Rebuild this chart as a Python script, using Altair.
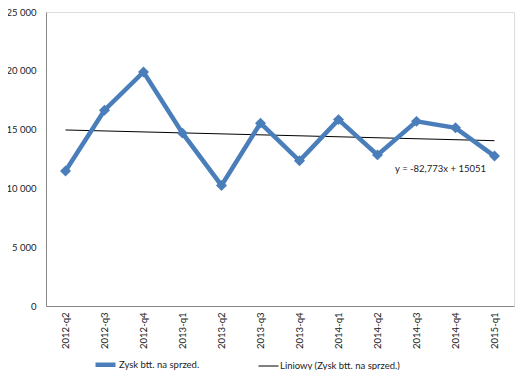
import altair as alt
import pandas as pd

quarters = ["2012-q2", "2012-q3", "2012-q4", "2013-q1", "2013-q2", "2013-q3",
            "2013-q4", "2014-q1", "2014-q2", "2014-q3", "2014-q4", "2015-q1"]
values = [11480, 16650, 19900, 14700, 10250, 15550, 12350, 15850, 12850, 15700, 15150, 12750]
trend_quarters = ["2012-q2", "2015-q1"]
trend_values = [14968, 14058]
series_name = "Zysk btt. na sprzed."
trend_name = "Liniowy (Zysk btt. na sprzed.)"
equation = "y = -82,773x + 15051"
eq_quarter = "2014-q3"
eq_value = 11650

df = pd.DataFrame({"q": quarters, "v": values, "s": series_name})
tf = pd.DataFrame({"q": trend_quarters, "v": trend_values, "s": trend_name})
ef = pd.DataFrame({"q": [eq_quarter], "v": [eq_value], "t": [equation]})

FONT = "Lato"
blue = "#4A7EBB"

xenc = alt.X("q:N", sort=quarters, title=None,
             scale=alt.Scale(domain=quarters, paddingInner=0, paddingOuter=0.5),
             axis=alt.Axis(labelAngle=-90, labelFontSize=9.5, labelFont=FONT, labelColor="#222",
                           ticks=False, domainColor="#888", labelPadding=6, labelBaseline="middle",
                           labelAlign="right"))
yenc = alt.Y("v:Q", title=None,
             scale=alt.Scale(domain=[0, 25000], nice=False),
             axis=alt.Axis(values=[0, 5000, 10000, 15000, 20000, 25000], grid=False, ticks=False,
                           domainColor="#888", labelFontSize=9.5, labelFont=FONT, labelColor="#222",
                           labelPadding=10, labelExpr="replace(format(datum.value, ',d'), ',', ' ')"))

leg = alt.Legend(orient="none", legendX=47, legendY=340, direction="horizontal", title=None,
                 symbolType="stroke", symbolSize=400, labelFont=FONT,
                 labelFontSize=9.5, labelColor="#222", columnPadding=56, labelOffset=1)
color = alt.Color("s:N", scale=alt.Scale(domain=[series_name, trend_name], range=[blue, "#000000"]),
                  legend=leg)
sw = alt.StrokeWidth("s:N", scale=alt.Scale(domain=[series_name, trend_name], range=[4.5, 1]),
                     legend=leg)

trend = alt.Chart(tf).mark_line(strokeWidth=1).encode(x=xenc, y=yenc, color=color, strokeWidth=sw)
line = alt.Chart(df).mark_line(strokeJoin="miter").encode(x=xenc, y=yenc, color=color, strokeWidth=sw)
pts = alt.Chart(df).mark_point(shape="diamond", filled=True, size=120, color=blue, opacity=1).encode(
    x=xenc, y=yenc)
txt = alt.Chart(ef).mark_text(font=FONT, fontSize=9.5, color="#222", dx=24).encode(
    x=xenc, y=yenc, text="t:N")

chart = alt.layer(trend, line, pts, txt).properties(
    width=468, height=294,
    autosize=alt.AutoSizeParams(type="none"),
    padding={"left": 38, "top": 4, "right": 3, "bottom": 64},
).configure_view(stroke=None).configure(background="white")

chart.save("out.html", embed_options={"renderer": "svg", "actions": False})
